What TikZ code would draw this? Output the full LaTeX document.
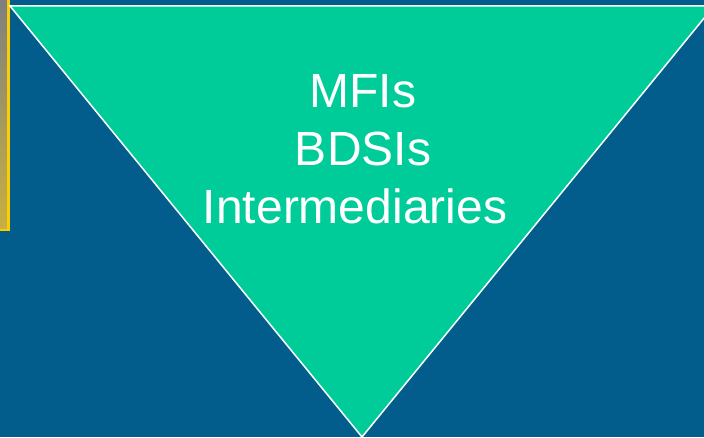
\documentclass[tikz,border=0pt]{standalone}
\usepackage{fontspec}
\setmainfont{Liberation Sans}
\definecolor{bgblue}{HTML}{025C8C}
\definecolor{trigreen}{HTML}{00CC99}
\definecolor{stripgray}{HTML}{7E8080}
\definecolor{stripgold}{HTML}{C8B040}
\definecolor{lineyellow}{HTML}{FFCC00}
\tikzset{
  lbl/.style={text=white, font=\fontsize{48pt}{57.5pt}\selectfont, align=center, inner sep=0pt},
  tri/.style={fill=trigreen, draw=white, line width=1.5pt, line join=miter}
}
\begin{document}
\begin{tikzpicture}[x=1pt,y=1pt]
\useasboundingbox (0,0) rectangle (704,437);
\fill[bgblue] (0,0) rectangle (704,437);
% left strip
\shade[top color=stripgray, bottom color=stripgold] (0,207) rectangle (8,437);
\fill[lineyellow] (7,206) rectangle (9.5,437);
\fill[lineyellow] (0,206) rectangle (9.5,208);
% triangle
\coordinate (tl) at (10,431);
\coordinate (tr) at (714,431);
\coordinate (bt) at (362,0);
\draw[tri] (tl) -- (tr) -- (bt) -- cycle;
% labels
\node[lbl, anchor=base] (m) at (363,329) {MFIs};
\node[lbl, anchor=base] (b) at (363,271.5) {BDSIs};
\node[lbl, anchor=base] (i) at (355,214) {Intermediaries};
\end{tikzpicture}
\end{document}
